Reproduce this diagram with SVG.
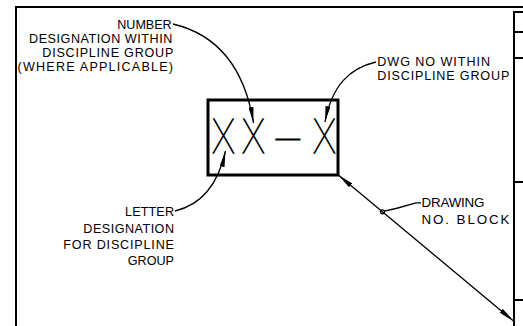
<svg xmlns="http://www.w3.org/2000/svg" width="523" height="326" viewBox="0 0 523 326">
  <style>
    .frame{fill:none;stroke:#000;stroke-width:2}
    .lbl{font-family:"Liberation Sans",Arial,sans-serif;font-size:12.6px;fill:#000}
    .lbl.lg{font-size:13.4px}
    .lead{fill:none;stroke:#000;stroke-width:1.3}
    .blk{fill:none;stroke:#000;stroke-width:3}
    .big{font-family:Lato,Roboto,Inter,sans-serif;font-weight:100;font-size:47.5px;fill:#000;stroke:#000;stroke-width:1.3px}
  </style>
  <defs>
    <marker id="ah" viewBox="0 0 16 5" refX="16" refY="2.5" markerWidth="16" markerHeight="5" markerUnits="userSpaceOnUse" orient="auto-start-reverse">
      <path d="M0,0L16,2.5L0,5z" fill="#000"/>
    </marker>
  </defs>
  <rect width="523" height="326" fill="#fff"/>

  <!-- sheet border and title strip -->
  <g id="sheet-border">
    <path class="frame" d="M16,326V7H523"/>
    <path class="frame" d="M523,12H514V326M514,32H523M514,58H523M514,182H523M514,300H523"/>
  </g>

  <!-- drawing number block -->
  <g id="number-block">
    <rect class="blk" x="208" y="100" width="130" height="75"/>
    <g transform="translate(0,153) scale(0.8,1)">
      <text class="big" x="265 302.5 341.3 391.3" y="0">XX—X</text>
    </g>
  </g>

  <g id="label-number">
    <text class="lbl" x="117.3" y="29" textLength="54.4">NUMBER</text>
    <text class="lbl" x="29" y="42.7" textLength="143.3">DESIGNATION WITHIN</text>
    <text class="lbl" x="42.3" y="56.7" textLength="131">DISCIPLINE GROUP</text>
    <text class="lbl" x="17.5" y="70.7" textLength="155.5">(WHERE APPLICABLE)</text>
  </g>

  <g id="label-dwg-no">
    <text class="lbl" x="377.3" y="65.7" textLength="112.7">DWG NO WITHIN</text>
    <text class="lbl" x="377.3" y="80" textLength="132">DISCIPLINE GROUP</text>
  </g>

  <g id="label-letter">
    <text class="lbl" x="125" y="215.7" textLength="49">LETTER</text>
    <text class="lbl" x="83.3" y="232.7" textLength="90.7">DESIGNATION</text>
    <text class="lbl" x="63.3" y="249" textLength="110.7">FOR DISCIPLINE</text>
    <text class="lbl" x="127.7" y="265" textLength="46.3">GROUP</text>
  </g>

  <g id="label-drawing-block">
    <text class="lbl lg" x="421.5" y="206.7" textLength="63">DRAWING</text>
    <text class="lbl lg" x="421.5" y="223.5" textLength="88">NO. BLOCK</text>
  </g>

  <!-- leaders -->
  <g id="connectors">
    <path class="lead" marker-end="url(#ah)" d="M173,24Q240,40 253.5,123"/>
    <path class="lead" marker-end="url(#ah)" d="M376,62C350,68 332,85 325,122"/>
    <path class="lead" marker-end="url(#ah)" d="M175,211C200,205 218,185 225.5,151"/>
    <path class="lead" marker-start="url(#ah)" marker-end="url(#ah)" d="M338.3,175L513.5,321"/>
    <circle class="lead" cx="382.5" cy="211.8" r="2"/>
    <path class="lead" d="M384.3,211.2L396,208.5L416,202.8H421"/>
  </g>
</svg>
